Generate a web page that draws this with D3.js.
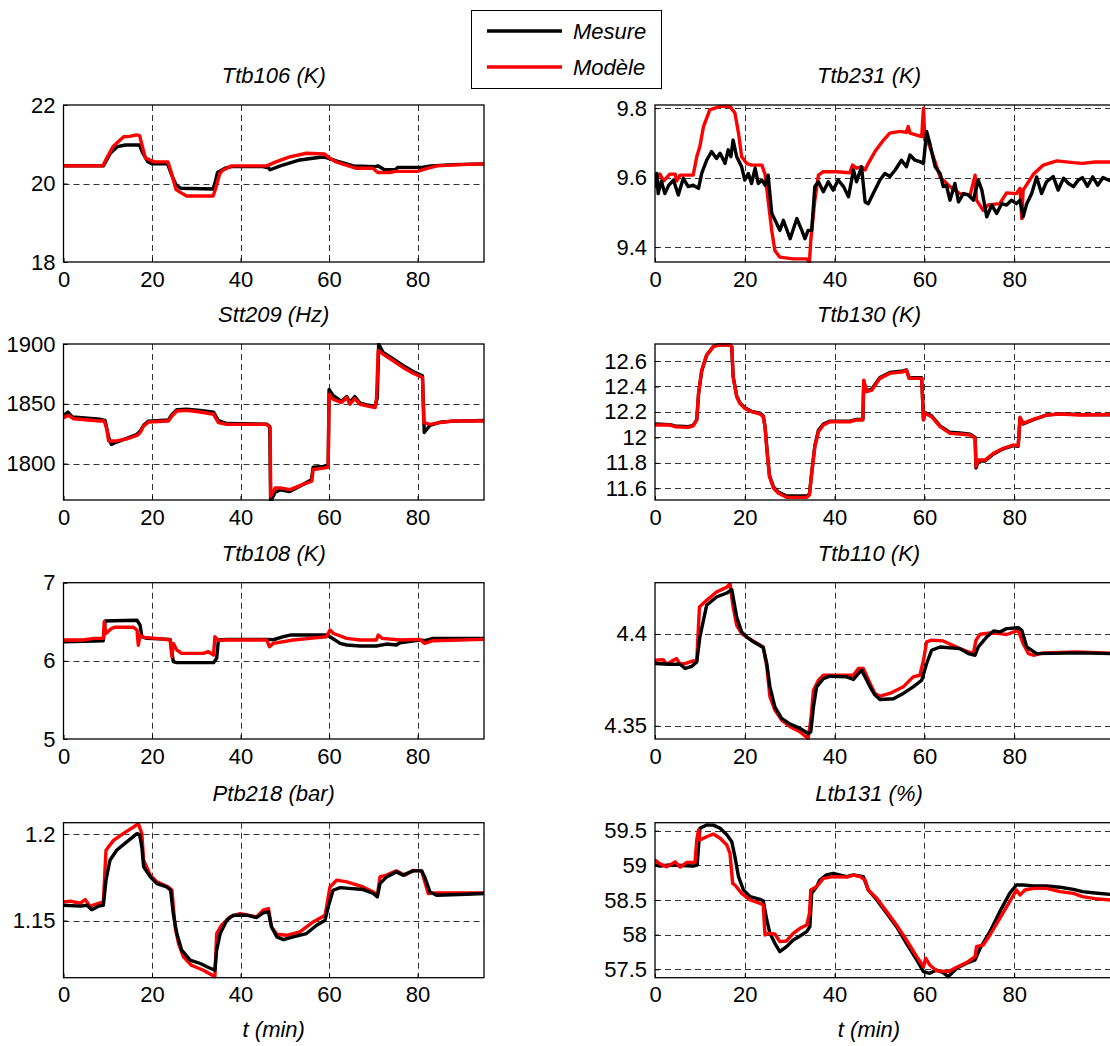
<!DOCTYPE html>
<html>
<head>
<meta charset="utf-8">
<script src="https://cdn.jsdelivr.net/npm/d3@7"></script>
<style>
  body { margin: 0; background: #fff; }
  svg { display: block; font-family: "Liberation Sans", Arial, sans-serif; }
</style>
</head>
<body>
<script>
// ---- data : [t (min), value] ----
const ttb106Mes = [[0,20.45],[9,20.45],[10.6,20.77],[12.2,20.94],[14,20.98],[17.2,20.98],[17.8,20.8],[19,20.56],[20,20.5],[23.5,20.5],[24.5,20.2],[25.5,19.95],[26.5,19.88],[33.8,19.86],[34.3,20.05],[34.8,20.28],[36.5,20.39],[38,20.43],[45,20.43],[46.3,20.4],[46.7,20.35],[49,20.45],[53.4,20.6],[58,20.67],[59,20.67],[61.8,20.57],[65.5,20.45],[70.5,20.43],[71,20.45],[72.5,20.35],[75,20.35],[75.5,20.41],[81,20.41],[83,20.45],[88,20.48],[95,20.5]];
const ttb106Mod = [[0,20.45],[8.9,20.45],[10,20.7],[11.2,20.94],[13.6,21.19],[15,21.2],[16.5,21.24],[17.2,21.22],[17.8,20.95],[18.5,20.65],[20.5,20.55],[23.6,20.55],[24.3,20.3],[25.4,19.85],[26.3,19.78],[27.8,19.68],[33.8,19.68],[34.3,19.85],[35.3,20.25],[36,20.34],[38,20.45],[45.9,20.45],[48,20.55],[51.1,20.68],[54.9,20.77],[59,20.75],[60,20.66],[61.4,20.56],[63.5,20.48],[66,20.39],[69.9,20.39],[71,20.28],[73.7,20.28],[75,20.31],[80,20.31],[82,20.38],[84.4,20.45],[90,20.48],[95,20.5]];

const ttb231Mes = [[0,9.574],[0.4,9.612],[0.7,9.554],[1.4,9.59],[2.2,9.554],[3,9.577],[4.1,9.593],[5.2,9.55],[6.3,9.598],[7.4,9.574],[8.5,9.578],[9.7,9.569],[10.4,9.612],[11.5,9.65],[12.6,9.675],[13.7,9.655],[14.5,9.67],[15.6,9.641],[16.3,9.68],[16.9,9.66],[17.4,9.708],[18.2,9.66],[19.3,9.631],[20,9.593],[20.8,9.612],[21.5,9.583],[22.3,9.627],[23,9.583],[23.8,9.593],[24.5,9.578],[25.2,9.607],[26,9.497],[27.1,9.468],[27.8,9.448],[28.6,9.477],[30.1,9.424],[31.6,9.482],[32.7,9.448],[33.4,9.424],[34.1,9.448],[34.9,9.448],[35.6,9.574],[36.4,9.588],[37.5,9.559],[38.6,9.588],[39.7,9.564],[40.8,9.593],[42,9.574],[43.1,9.545],[44.2,9.622],[44.9,9.588],[46,9.631],[46.8,9.53],[47.5,9.525],[48.6,9.554],[50.1,9.593],[51.2,9.612],[52.3,9.603],[53.5,9.622],[54.9,9.65],[56,9.631],[56.8,9.665],[57.9,9.65],[59,9.646],[59.8,9.641],[60.5,9.733],[61.2,9.699],[62.4,9.631],[63.5,9.612],[64.2,9.574],[64.9,9.578],[65.7,9.535],[66.8,9.583],[67.6,9.53],[68.7,9.554],[69.8,9.55],[70.9,9.535],[72,9.593],[72.8,9.564],[73.9,9.487],[75,9.521],[76.1,9.497],[77.2,9.525],[78.3,9.521],[79.4,9.535],[80.5,9.525],[81.3,9.535],[82,9.487],[82.8,9.525],[83.9,9.554],[85,9.602],[86.1,9.554],[87.2,9.588],[88.7,9.603],[89.8,9.564],[91,9.598],[92.1,9.583],[93.2,9.574],[94.3,9.593],[95.2,9.6],[96.3,9.575],[97.5,9.602],[98.6,9.578],[99.8,9.6],[101.5,9.59]];
const ttb231Mod = [[0,9.593],[1.1,9.61],[1.9,9.59],[3.3,9.61],[4.5,9.61],[4.8,9.59],[5.6,9.607],[8.5,9.607],[9.3,9.66],[10,9.69],[10.8,9.747],[12.2,9.795],[14.5,9.805],[16.7,9.805],[17.8,9.786],[18.6,9.728],[19.3,9.66],[20.4,9.641],[21.5,9.636],[23.8,9.636],[24.5,9.61],[25.2,9.535],[26,9.448],[26.7,9.39],[27.8,9.371],[30.8,9.366],[33.8,9.366],[34.4,9.357],[34.7,9.42],[35.6,9.535],[36.4,9.607],[37.5,9.617],[40.5,9.617],[43.4,9.614],[44,9.636],[44.9,9.627],[46,9.631],[46.8,9.622],[47.5,9.641],[49,9.675],[50.9,9.708],[52.3,9.728],[54.6,9.733],[56,9.73],[56.4,9.747],[56.8,9.728],[59.4,9.718],[59.8,9.8],[60.1,9.708],[60.9,9.699],[62,9.66],[63.5,9.602],[65.7,9.574],[67.9,9.554],[70.2,9.55],[71.3,9.607],[71.6,9.535],[73.1,9.506],[74.2,9.521],[76.8,9.525],[78.3,9.556],[80.5,9.554],[81.3,9.569],[81.7,9.482],[82,9.564],[84.3,9.61],[86.5,9.636],[89.5,9.648],[93.2,9.643],[95.2,9.641],[98,9.645],[101.5,9.645]];

const stt209Mes = [[0,1840],[1,1843],[2,1839],[8.3,1837],[9.4,1836],[10.2,1822],[10.8,1816],[12,1818],[14.3,1821],[16.6,1824.5],[17.3,1827],[18.1,1832],[19.2,1835.5],[23.7,1836.5],[24.5,1841],[25.6,1845],[27.8,1845.5],[30.9,1844.5],[33.9,1843],[35,1836],[36.9,1833.5],[45.9,1833],[46.6,1831],[46.8,1768],[47.8,1776],[49,1778],[51,1776.5],[53.4,1781],[56,1786.5],[56.4,1797],[59.1,1797.5],[59.8,1799],[60,1862],[60.9,1857],[62.8,1852],[64,1856],[64.7,1851],[65.8,1856],[67,1850.5],[68.5,1849],[70.4,1848],[70.9,1855],[71.2,1900],[72.2,1893],[74.5,1887.5],[76.7,1882],[79,1877],[81.1,1873.5],[81.5,1826],[82.8,1832],[85,1834.5],[88,1835.5],[95,1836]];
const stt209Mod = [[0,1838.4],[1.1,1840.3],[2.3,1837.5],[8.3,1835.6],[9.2,1835.6],[9.8,1828.6],[10.2,1818.8],[11.7,1818.8],[14.3,1820.7],[16.6,1823.5],[17.3,1825.8],[18.1,1831.4],[19.2,1834.7],[23.7,1835.6],[24.5,1839.8],[25.6,1844],[27.8,1844.5],[30.9,1843.1],[33.9,1841.2],[35,1834.2],[36.9,1832.8],[45.9,1832.8],[46.7,1830],[46.8,1772.5],[47.8,1779.6],[48.9,1779.6],[51.2,1778.2],[53.4,1781.5],[56.1,1785.2],[56.4,1795],[59.1,1796.4],[59.8,1797],[60,1858],[60.9,1853.8],[62.8,1851],[64,1855.2],[64.7,1849.6],[65.8,1854.3],[67,1849.6],[68.5,1848.2],[70.4,1846.8],[70.7,1853.8],[71.1,1894.4],[72.2,1891.6],[74.5,1886],[76.7,1880.4],[79,1875.6],[81.1,1872],[81.4,1834.2],[82.8,1832.8],[85,1834.2],[88,1835.6],[95,1835.6]];

const ttb130Mes = [[0,12.105],[3.3,12.1],[4.5,12.09],[7.4,12.085],[8.5,12.095],[9.3,12.14],[9.7,12.34],[10.4,12.52],[11.5,12.645],[13,12.715],[14.1,12.728],[16.7,12.728],[17.1,12.71],[17.4,12.48],[18.2,12.325],[18.9,12.272],[20,12.232],[21.5,12.205],[23.4,12.19],[24.1,12.17],[24.5,12.09],[25,11.88],[25.5,11.7],[26.4,11.61],[27.5,11.57],[29.3,11.54],[33.8,11.54],[34.4,11.555],[34.9,11.72],[35.6,11.935],[36.4,12.055],[37.5,12.105],[39,12.128],[43.4,12.128],[44.9,12.142],[46.3,12.142],[46.5,12.44],[47.1,12.365],[48.3,12.38],[50.1,12.47],[52.3,12.51],[55.3,12.522],[56,12.53],[56.6,12.47],[59.4,12.47],[59.8,12.14],[60.1,12.195],[61.6,12.17],[63.5,12.09],[65.7,12.04],[67.9,12.035],[70.2,12.025],[71.3,12.0],[71.5,11.76],[72,11.815],[73.5,11.815],[75.4,11.87],[77.6,11.91],[79.8,11.935],[80.9,11.93],[81.3,12.15],[82,12.105],[84.3,12.14],[87.2,12.175],[90.2,12.185],[94.7,12.18],[101.5,12.178]];
const ttb130Mod = [[0,12.097],[3.3,12.097],[4.5,12.084],[7.4,12.079],[8.5,12.09],[9.3,12.137],[9.7,12.346],[10.4,12.53],[11.5,12.647],[13,12.713],[14.1,12.726],[16.7,12.726],[17.1,12.713],[17.4,12.477],[18.2,12.32],[18.9,12.268],[20,12.228],[21.5,12.202],[23.4,12.184],[24.1,12.163],[24.5,12.084],[25,11.875],[25.5,11.692],[26.4,11.6],[27.5,11.561],[29.3,11.529],[33.8,11.529],[34.4,11.548],[34.9,11.718],[35.6,11.927],[36.4,12.045],[37.5,12.097],[39,12.123],[43.4,12.123],[44.9,12.137],[46.3,12.137],[46.5,12.45],[47.1,12.359],[48.3,12.372],[50.1,12.464],[52.3,12.503],[55.3,12.516],[56,12.529],[56.6,12.464],[59.4,12.464],[59.8,12.137],[60.1,12.189],[61.6,12.163],[63.5,12.084],[65.7,12.032],[67.9,12.027],[70.2,12.019],[71.3,11.993],[71.5,11.77],[72,11.822],[73.5,11.822],[75.4,11.875],[77.6,11.914],[79.8,11.94],[80.9,11.935],[81.3,12.158],[82,12.11],[84.3,12.142],[87.2,12.176],[90.2,12.184],[94.7,12.176],[101.5,12.18]];

const ttb108Mes = [[0,6.245],[9,6.258],[9.4,6.51],[11.3,6.514],[16.6,6.52],[17.3,6.458],[17.7,6.309],[18.8,6.288],[24.1,6.275],[24.8,5.99],[25.6,5.977],[33.9,5.977],[34.6,6.032],[35,6.267],[36.9,6.275],[45.9,6.275],[47.4,6.27],[49.7,6.309],[51.2,6.33],[59.4,6.33],[60.2,6.309],[62.5,6.224],[64,6.203],[67,6.19],[70.7,6.19],[73,6.215],[75.2,6.203],[76,6.232],[80.5,6.267],[81.6,6.258],[83.5,6.288],[95,6.288]];
const ttb108Mod = [[0,6.267],[4.5,6.267],[6.8,6.288],[9,6.288],[9.2,6.5],[9.6,6.35],[10.9,6.416],[11.7,6.43],[15.8,6.43],[16.6,6.394],[16.9,6.2],[17.3,6.33],[18.1,6.3],[21.1,6.288],[24.1,6.267],[24.5,6.053],[24.8,6.224],[25.6,6.139],[26.7,6.096],[31.6,6.096],[32.7,6.117],[33.9,6.075],[34.2,6.309],[35,6.26],[36.9,6.267],[45.9,6.267],[46.5,6.181],[47.4,6.224],[51.9,6.267],[55.7,6.288],[59.4,6.309],[60.2,6.394],[61,6.35],[64,6.288],[67,6.267],[70.7,6.267],[71.1,6.33],[72,6.288],[76,6.267],[80.5,6.275],[81.6,6.224],[83.5,6.258],[95,6.275]];

const ttb110Mes = [[0,4.3839],[3.3,4.3835],[5.6,4.3835],[6.7,4.3812],[8.2,4.3824],[9.3,4.3848],[10,4.3984],[11.5,4.4156],[13.7,4.4201],[16,4.4223],[17.1,4.4241],[17.4,4.4201],[18.2,4.4092],[19.3,4.4011],[20.4,4.3984],[21.9,4.3957],[24.1,4.3926],[24.9,4.3839],[25.6,4.3712],[26.7,4.3603],[28.2,4.354],[30.1,4.3509],[32.3,4.3486],[34.1,4.3458],[34.7,4.3467],[35.3,4.3603],[36,4.3712],[37.5,4.3757],[39,4.377],[42.7,4.3766],[44.2,4.3752],[45.3,4.3784],[46,4.3803],[46.8,4.3766],[47.9,4.3712],[49,4.3667],[50.1,4.3643],[53.1,4.3647],[55.3,4.3676],[57.5,4.3712],[59.4,4.3748],[60.5,4.3839],[61.6,4.3911],[63.5,4.3929],[67.9,4.392],[69.8,4.3893],[71.3,4.3884],[72,4.3929],[73.9,4.3984],[75.4,4.4016],[76.8,4.4011],[78.3,4.4029],[80.9,4.4034],[81.7,4.402],[82.8,4.3929],[85,4.3893],[94.7,4.3897],[101.5,4.3893]];
const ttb110Mod = [[0,4.3857],[1.8,4.386],[2.6,4.3835],[4.1,4.3857],[4.8,4.3866],[5.6,4.3835],[6.7,4.3839],[8.5,4.3853],[9.3,4.3853],[9.9,4.4147],[11.5,4.4183],[13.7,4.4228],[16,4.4255],[16.7,4.4274],[17.4,4.4147],[18.2,4.4047],[19.3,4.4002],[20.4,4.3984],[24.1,4.3929],[24.9,4.3821],[25.6,4.3658],[26.7,4.3585],[28.2,4.3531],[30.1,4.3495],[32.3,4.3467],[34.1,4.3431],[34.7,4.3531],[35.3,4.3694],[36.4,4.3748],[37.5,4.3775],[44.2,4.3775],[45.3,4.3812],[46.4,4.3812],[47.9,4.373],[49,4.3676],[50.1,4.3661],[52.3,4.3676],[55.3,4.3712],[57.5,4.3766],[59,4.3775],[59.8,4.3857],[60.5,4.3957],[61.6,4.3966],[64.2,4.3962],[67.9,4.392],[69.8,4.3902],[70.9,4.3893],[71.5,4.3966],[72.4,4.3998],[74.6,4.4005],[76.8,4.4002],[78.3,4.3997],[80.9,4.402],[82,4.3947],[83.2,4.3893],[84.3,4.3884],[86.5,4.3897],[93.9,4.3902],[101.5,4.3895]];

const ptb218Mes = [[0,1.1588],[3.8,1.1583],[5.3,1.1588],[6.4,1.1563],[7.9,1.1583],[9,1.1588],[9.6,1.1733],[10.5,1.1848],[12,1.1906],[14.3,1.1954],[16.6,1.2002],[17.2,1.1995],[17.7,1.1925],[18.1,1.181],[19.6,1.1752],[21.1,1.1713],[23.3,1.1694],[24.2,1.1675],[24.8,1.154],[25.6,1.1425],[26.7,1.1329],[28.6,1.1271],[30.9,1.1252],[32.4,1.1233],[34.2,1.1213],[34.6,1.1329],[35.4,1.1425],[36.9,1.1502],[38.4,1.1531],[41.4,1.1531],[43.6,1.1517],[45.1,1.1544],[46.3,1.155],[47,1.1463],[48.2,1.1406],[49.7,1.139],[51.9,1.1406],[54.9,1.1425],[57.2,1.1473],[59.1,1.1502],[59.8,1.1579],[60.9,1.1675],[62.5,1.169],[67.7,1.1679],[70,1.1656],[70.9,1.1637],[71.5,1.1713],[73,1.1752],[75.2,1.1781],[76.7,1.1762],[79,1.1787],[80.9,1.1787],[81.6,1.1752],[82.8,1.1665],[84.3,1.1646],[91,1.1652],[95,1.1656]];
const ptb218Mod = [[0,1.1608],[1.5,1.1612],[3.8,1.16],[4.9,1.1621],[6,1.1583],[9,1.1608],[9.6,1.1906],[11.3,1.1963],[13.5,1.2002],[15.8,1.204],[16.9,1.206],[17.7,1.2002],[18.1,1.1848],[19.6,1.1762],[21.1,1.1723],[23.7,1.1694],[24.5,1.1675],[25.2,1.1463],[26,1.1367],[27.1,1.129],[28.9,1.1242],[31.6,1.1213],[34.2,1.1175],[34.6,1.1425],[35.7,1.1473],[37.6,1.1521],[39.9,1.154],[43.6,1.1521],[45.1,1.156],[46.3,1.1569],[47,1.1463],[48.2,1.1421],[50.4,1.1415],[53.4,1.1435],[56.4,1.1492],[59.1,1.1531],[60.2,1.1694],[61.7,1.1733],[64,1.1723],[67.7,1.1694],[70,1.1665],[70.9,1.1646],[71.5,1.1752],[73,1.1762],[75.2,1.1787],[77.1,1.1762],[79,1.179],[80.9,1.1787],[82.4,1.1656],[84.3,1.166],[95,1.166]];

const ltb131Mes = [[0,59.005],[1.1,58.99],[3.3,59.005],[8.5,58.99],[9.4,59.005],[10,59.534],[11.5,59.582],[13,59.58],[14.5,59.534],[16,59.44],[17.1,59.34],[17.8,59.125],[18.6,58.836],[19.7,58.644],[21.2,58.548],[23.4,58.51],[24.1,58.49],[24.9,58.212],[25.6,58.019],[26.7,57.875],[27.8,57.755],[29.3,57.827],[30.8,57.923],[32.3,57.98],[33.8,58.043],[34.5,58.115],[34.9,58.596],[36,58.692],[36.7,58.788],[38.2,58.861],[39.7,58.885],[42.7,58.837],[44.2,58.861],[46.4,58.837],[47.5,58.644],[49.4,58.5],[51.6,58.308],[53.8,58.115],[56,57.875],[58.3,57.635],[59.8,57.466],[61.2,57.442],[62.7,57.49],[64.2,57.45],[65.3,57.394],[67.2,57.514],[69.4,57.587],[71.3,57.635],[72.4,57.803],[74.6,58.043],[76.8,58.332],[79,58.596],[80.5,58.716],[82,58.716],[84.3,58.702],[87.2,58.702],[90.2,58.683],[93.2,58.654],[95.2,58.62],[98,58.6],[101.5,58.58]];
const ltb131Mod = [[0,59.077],[1.1,59.02],[2.6,58.98],[4.5,59.05],[5.6,58.975],[7,59.04],[8.9,59.04],[9.3,59.365],[9.7,59.51],[10,59.365],[11.5,59.413],[13,59.452],[14.5,59.39],[16,59.293],[16.7,59.173],[17.3,58.74],[17.8,58.716],[19.3,58.596],[21.2,58.5],[23.4,58.452],[24.1,58.428],[24.5,57.995],[25.2,58.019],[26.7,58.01],[27.8,57.899],[29.3,57.909],[30.8,58.019],[32.3,58.091],[33.8,58.139],[34.4,58.308],[34.7,58.644],[36,58.692],[37.5,58.812],[39.7,58.837],[42.7,58.83],[44.2,58.86],[45.7,58.837],[46.8,58.788],[47.5,58.644],[49.4,58.524],[51.6,58.332],[53.8,58.139],[56,57.923],[58.3,57.683],[59.8,57.538],[60.3,57.659],[61.2,57.563],[62.7,57.48],[65.3,57.466],[67.2,57.529],[69.4,57.596],[71.3,57.683],[71.6,57.827],[73.1,57.851],[74.6,57.995],[76.8,58.236],[79,58.476],[80.5,58.644],[81.3,58.572],[82.4,58.644],[84.3,58.668],[87.2,58.668],[90.2,58.62],[93.2,58.596],[95.2,58.548],[98,58.52],[101.5,58.5]];

const titles = ["Ttb106 (K)","Ttb231 (K)","Stt209 (Hz)","Ttb130 (K)","Ttb108 (K)","Ttb110 (K)","Ptb218 (bar)","Ltb131 (%)"];
const yDomains = [[18,22],[9.357,9.809],[1769.5,1900],[11.508,12.734],[5,7],[4.3428,4.4279],[1.117,1.2065],[57.379,59.615]];
const yTicks = [[18,20,22],[9.4,9.6,9.8],[1800,1850,1900],[11.6,11.8,12,12.2,12.4,12.6],[5,6,7],[4.35,4.4],[1.15,1.2],[57.5,58,58.5,59,59.5]];
const xTicks = [0,20,40,60,80];
const seriesNames = ["Mesure","Modèle"];

const mesure = [ttb106Mes, ttb231Mes, stt209Mes, ttb130Mes, ttb108Mes, ttb110Mes, ptb218Mes, ltb131Mes];
const modele = [ttb106Mod, ttb231Mod, stt209Mod, ttb130Mod, ttb108Mod, ttb110Mod, ptb218Mod, ltb131Mod];
const blackOnTop = [false,true,false,false,false,true,true,false];

// ---- layout ----
const W = 1110, H = 1046;
const colX = [[63.5,484],[655,1110.7]];
const colDom = [[0,95],[0,101.5]];
const rowY = [[105,262],[344,500],[582.7,739],[822.7,977.7]];
const RED = "#ff0000";

const svg = d3.select("body").append("svg")
  .attr("width", W).attr("height", H);

svg.append("defs");

titles.forEach((title, i) => {
  const row = Math.floor(i / 2), col = i % 2;
  const [x0, x1] = colX[col], [y0, y1] = rowY[row];

  const x = d3.scaleLinear().domain(colDom[col]).range([x0, x1]);
  const y = d3.scaleLinear().domain(yDomains[i]).range([y1, y0]);

  const g = svg.append("g");

  svg.select("defs").append("clipPath").attr("id", "clip" + i)
    .append("rect").attr("x", x0).attr("y", y0 - 1).attr("width", x1 - x0).attr("height", y1 - y0 + 2);

  // grid (dashed)
  g.append("g").selectAll("line").data(xTicks.filter(t => t > 0)).join("line")
    .attr("x1", d => Math.round(x(d)) + 0.5).attr("x2", d => Math.round(x(d)) + 0.5)
    .attr("y1", y0).attr("y2", y1)
    .attr("stroke", "#333").attr("stroke-width", 1).attr("stroke-dasharray", "6,4");
  g.append("g").selectAll("line").data(yTicks[i].filter(v => Math.abs(y(v) - y0) > 2 && Math.abs(y(v) - y1) > 2)).join("line")
    .attr("x1", x0).attr("x2", x1)
    .attr("y1", d => Math.round(y(d)) + 0.5).attr("y2", d => Math.round(y(d)) + 0.5)
    .attr("stroke", "#333").attr("stroke-width", 1).attr("stroke-dasharray", "6,4");

  // axes (inward ticks, matlab style)
  const xa = d3.axisBottom(x).tickValues(xTicks).tickSize(-4).tickPadding(9).tickFormat(d3.format("d"));
  const ya = d3.axisLeft(y).tickValues(yTicks[i]).tickSize(-4).tickPadding(8).tickFormat(d => String(+d.toFixed(3)));
  const gx = g.append("g").attr("transform", `translate(0,${y1})`).call(xa);
  const gy = g.append("g").attr("transform", `translate(${x0},0)`).call(ya);
  [gx, gy].forEach(a => {
    a.select(".domain").remove();
    a.selectAll("text").attr("font-size", 22).attr("fill", "#000")
      .attr("font-family", "'Liberation Sans', Arial, sans-serif");
    a.selectAll("line").attr("stroke", "#000");
  });

  // lines
  const line = d3.line().x(d => x(d[0])).y(d => y(d[1]));
  const lines = g.append("g").attr("clip-path", `url(#clip${i})`);
  const order = blackOnTop[i] ? [[modele[i], RED], [mesure[i], "#000"]] : [[mesure[i], "#000"], [modele[i], RED]];
  order.forEach(([data, c]) => {
    lines.append("path").datum(data)
      .attr("d", line).attr("fill", "none")
      .attr("stroke", c).attr("stroke-width", 3.4)
      .attr("stroke-linejoin", "round").attr("stroke-linecap", "round");
  });

  // frame
  g.append("rect")
    .attr("x", x0).attr("y", y0).attr("width", x1 - x0).attr("height", y1 - y0)
    .attr("fill", "none").attr("stroke", "#000").attr("stroke-width", 1.3);

  // title
  const cx = col === 0 ? (x0 + x1) / 2 : 869;
  svg.append("text")
    .attr("x", cx).attr("y", y0 - 22)
    .attr("text-anchor", "middle").attr("font-size", 22).attr("font-style", "italic")
    .text(title);

  if (row === 3) {
    svg.append("text")
      .attr("x", cx).attr("y", 1037)
      .attr("text-anchor", "middle").attr("font-size", 22).attr("font-style", "italic")
      .text("t (min)");
  }
});

// legend
const leg = svg.append("g");
leg.append("rect").attr("x", 471.5).attr("y", 10.5).attr("width", 190).attr("height", 78)
  .attr("fill", "#fff").attr("stroke", "#000").attr("stroke-width", 1);
seriesNames.forEach((name, k) => {
  const yy = k === 0 ? 31 : 67;
  leg.append("line").attr("x1", 487).attr("x2", 562).attr("y1", yy).attr("y2", yy)
    .attr("stroke", k === 0 ? "#000" : RED).attr("stroke-width", 3.4);
  leg.append("text").attr("x", 573).attr("y", yy + 8)
    .attr("font-size", 22).attr("font-style", "italic").text(name);
});
</script>
</body>
</html>
